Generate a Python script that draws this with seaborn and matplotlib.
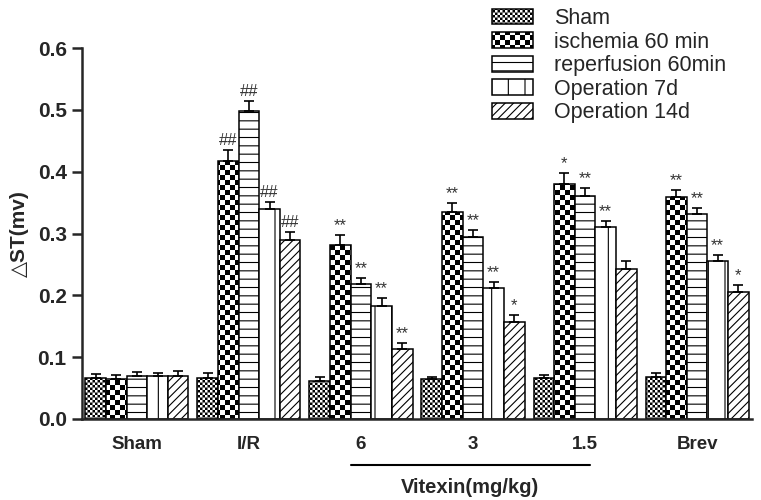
import numpy as np
import pandas as pd
import matplotlib
matplotlib.use('Agg')
import matplotlib.pyplot as plt
import matplotlib.hatch as mhatch
from matplotlib.path import Path
import seaborn as sns

# --- DATA ---
groups = ['Sham', 'I/R', '6', '3', '1.5', 'Brev']
series = ['Sham', 'ischemia 60 min', 'reperfusion 60min', 'Operation 7d', 'Operation 14d']

sham_vals = [0.066, 0.066, 0.062, 0.064, 0.066, 0.068]
isch_vals = [0.065, 0.417, 0.282, 0.335, 0.380, 0.359]
rep_vals = [0.070, 0.498, 0.218, 0.295, 0.361, 0.331]
op7_vals = [0.069, 0.339, 0.183, 0.212, 0.311, 0.255]
op14_vals = [0.070, 0.290, 0.113, 0.157, 0.243, 0.205]

sham_err = [0.006, 0.008, 0.006, 0.004, 0.005, 0.006]
isch_err = [0.006, 0.018, 0.015, 0.014, 0.018, 0.012]
rep_err = [0.006, 0.017, 0.010, 0.011, 0.012, 0.011]
op7_err = [0.006, 0.012, 0.012, 0.010, 0.009, 0.010]
op14_err = [0.008, 0.013, 0.010, 0.012, 0.012, 0.012]

sham_sig = ['', '', '', '', '', '']
isch_sig = ['', '##', '**', '**', '*', '**']
rep_sig = ['', '##', '**', '**', '**', '**']
op7_sig = ['', '##', '**', '**', '**', '**']
op14_sig = ['', '##', '**', '*', '', '*']

yticks = [0.0, 0.1, 0.2, 0.3, 0.4, 0.5, 0.6]

values = [sham_vals, isch_vals, rep_vals, op7_vals, op14_vals]
errors = [sham_err, isch_err, rep_err, op7_err, op14_err]
sigs = [sham_sig, isch_sig, rep_sig, op7_sig, op14_sig]
hatches = ['**', '*', '--', '|', '////']


# --- checkerboard hatch (replaces the '*' star hatch) ---
class Checker(mhatch.HatchPatternBase):
    def __init__(self, hatch, density):
        self.n = 20 * hatch.count('*')
        self.num_vertices = 5 * (self.n * self.n // 2)

    def set_vertices_and_codes(self, vertices, codes):
        s = 1.0 / self.n
        d = 0.0055
        k = 0
        for i in range(self.n):
            for j in range(self.n):
                if (i + j) % 2:
                    continue
                x0, y0 = j * s + d, i * s + d
                x1, y1 = (j + 1) * s - d, (i + 1) * s - d
                vertices[k:k + 5] = [[x0, y0], [x1, y0], [x1, y1], [x0, y1], [x0, y0]]
                codes[k:k + 5] = [Path.MOVETO, Path.LINETO, Path.LINETO,
                                  Path.LINETO, Path.CLOSEPOLY]
                k += 5


mhatch._hatch_types = [t for t in mhatch._hatch_types if t is not mhatch.Stars] + [Checker]

sns.set_style('ticks')
plt.rcParams['font.family'] = ['Liberation Sans', 'DejaVu Sans']
plt.rcParams['hatch.linewidth'] = 0.8
plt.rcParams['hatch.color'] = 'black'

df = pd.DataFrame({
    'group': [g for s in series for g in groups],
    'series': [s for s in series for g in groups],
    'value': [v for vals in values for v in vals],
})

fig = plt.figure(figsize=(7.61, 5.0), dpi=100)
ax = fig.add_axes([82 / 761, 81 / 500, 670 / 761, 371 / 500])

sns.barplot(data=df, x='group', y='value', hue='series', order=groups,
            hue_order=series, palette=['white'] * 5, saturation=1,
            edgecolor='black', linewidth=1.1, width=0.92, errorbar=None,
            legend=False, ax=ax)

bar_containers = list(ax.containers)
for cont, h, vals, errs, sg in zip(bar_containers, hatches, values, errors, sigs):
    xs = []
    for patch in cont:
        patch.set_hatch(h)
        xs.append(patch.get_x() + patch.get_width() / 2)
    ax.errorbar(xs, vals, yerr=[np.zeros(len(errs)), errs], fmt='none',
                ecolor='black', elinewidth=1.2, capsize=3.3, capthick=1.2, zorder=3)
    for x, v, e, s in zip(xs, vals, errs, sg):
        if s:
            ax.text(x, v + e + 0.003, s, ha='center', va='bottom',
                    fontsize=12, color='#333333')

ax.set_xlim(-0.49, 5.49)
ax.set_ylim(0, 0.6)
ax.set_yticks(yticks)
ax.set_yticklabels([f'{t:.1f}' for t in yticks], fontsize=15, fontweight='bold')
ax.set_xticks(range(len(groups)))
ax.set_xticklabels(groups, fontsize=13.5, fontweight='bold')
ax.tick_params(axis='x', length=0, pad=12)
ax.tick_params(axis='y', length=7, width=1.8, pad=4)
ax.set_xlabel('')
ax.set_ylabel('△ST(mv)', fontsize=15, fontweight='bold', labelpad=6)
sns.despine(ax=ax)
for sp in ['left', 'bottom']:
    ax.spines[sp].set_linewidth(1.8)

# Vitexin dose bracket under the x axis
trans = ax.get_xaxis_transform()
ax.plot([1.91, 4.04], [-0.125, -0.125], color='black', lw=1.5,
        transform=trans, clip_on=False)
ax.text(2.97, -0.185, 'Vitexin(mg/kg)', transform=trans, ha='center', va='center',
        fontsize=14.5, fontweight='bold')

ax.legend(bar_containers, series, loc='upper left',
          bbox_to_anchor=(492 / 761, 1 - 8 / 500), bbox_transform=fig.transFigure,
          frameon=False, fontsize=15.5, handlelength=1.9, handleheight=0.75,
          handletextpad=1.0, labelspacing=0.12, borderpad=0, borderaxespad=0)

fig.savefig('out.png', dpi=100)
